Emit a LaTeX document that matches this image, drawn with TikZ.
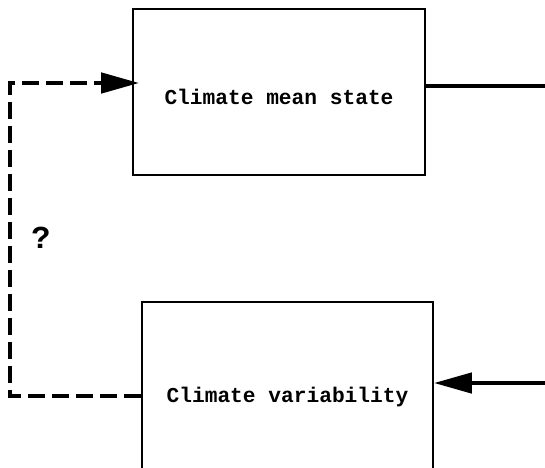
\documentclass[tikz,border=0pt]{standalone}
\usepackage{fontspec}
\setmonofont{Liberation Mono}
\usetikzlibrary{arrows.meta}
\begin{document}
\begin{tikzpicture}[x=1pt,y=-1pt,
  boxstyle/.style={draw, line width=1.6pt, inner sep=0pt, font=\ttfamily\bfseries\fontsize{21.2}{24}\selectfont},
  thickline/.style={line width=4.5pt},
  dashline/.style={line width=4.5pt, dash pattern=on 17pt off 7pt},
  tip/.style={-{Triangle[length=38pt,width=20pt]}}
]
\useasboundingbox (0,0) rectangle (545,467);
\clip (0,0) rectangle (545,467);
\fill[white] (0,0) rectangle (545,467);

\node[boxstyle, minimum width=292pt, minimum height=166pt, text height=24pt, text depth=0pt] (mean) at (279,92) {Climate mean state};
\node[boxstyle, minimum width=291pt, minimum height=190pt] (var) at (287.5,397) {Climate variability};

\coordinate (c1) at (10,83);
\coordinate (c2) at (10,396);
\coordinate (r1) at (545,86);
\coordinate (r2) at (545,383);

\draw[dashline, tip, shorten >=-7pt] (var.west |- c2) -- (c2) -- (c1) -- (mean.west |- c1);
\draw[thickline] (mean.east |- r1) -- (r1);
\draw[thickline, tip] (r2) -- (var.east |- r2);

\node[font=\ttfamily\bfseries\fontsize{32}{34}\selectfont, inner sep=0pt] (q) at (41,238) {?};
\end{tikzpicture}
\end{document}
